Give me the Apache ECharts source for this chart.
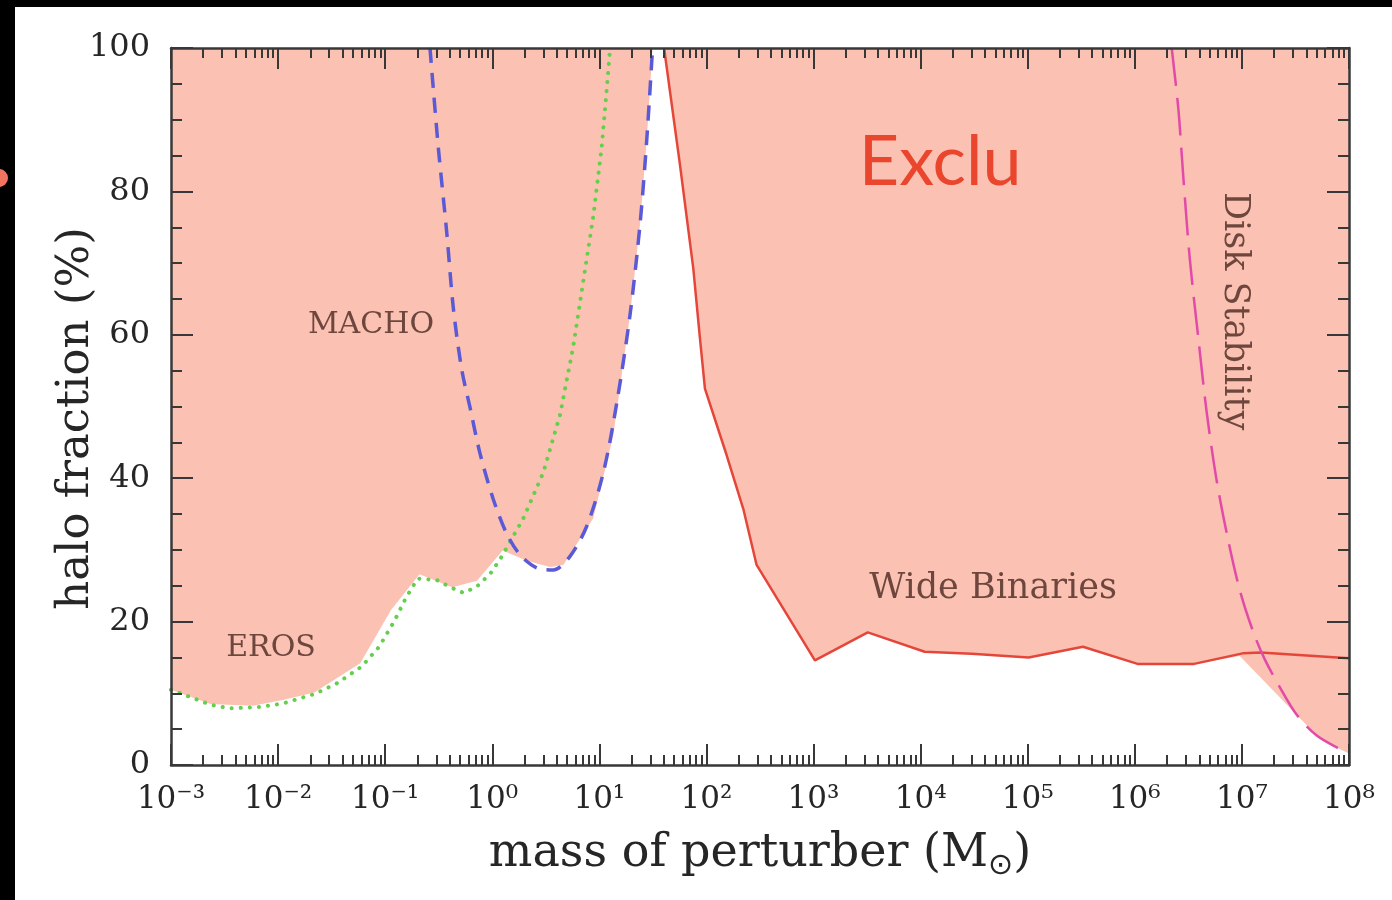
<!DOCTYPE html>
<html>
<head>
<meta charset="utf-8">
<script src="https://cdn.jsdelivr.net/npm/echarts@6/dist/echarts.min.js"></script>
<style>
html,body{margin:0;padding:0;background:#000;}
#chart{width:1392px;height:900px;}
</style>
</head>
<body>
<div id="chart"></div>
<script>
// ---------- axis ticks ----------
const xTickExponents = [-3, -2, -1, 0, 1, 2, 3, 4, 5, 6, 7, 8];
const xTickLabels = ['10⁻³', '10⁻²', '10⁻¹', '10⁰', '10¹', '10²', '10³', '10⁴', '10⁵', '10⁶', '10⁷', '10⁸'];
const xMinorMultipliers = [2, 3, 4, 5, 6, 7, 8, 9];
const yTickValues = [0, 20, 40, 60, 80, 100];

// ---------- EROS (green dotted) ----------
const erosMass = [1.0e-3, 2.34e-3, 3.55e-3, 6.9e-3, 1.12e-2, 2.19e-2, 3.55e-2, 6.0e-2, 8.8e-2, 0.123, 0.156, 0.201, 0.303, 0.421, 0.54, 0.72, 0.96, 1.23, 1.95, 3.0, 4.29, 5.71, 7.08, 8.77, 10.5, 11.7, 12.6];
const erosFrac = [10.5, 8.4, 7.9, 8.1, 8.6, 9.9, 11.4, 13.7, 16.5, 20.2, 23.3, 26.0, 25.8, 24.7, 24.0, 24.9, 26.7, 29.1, 34.4, 40.8, 48.8, 58.4, 67.5, 76.5, 86.1, 94.1, 100];

// ---------- MACHO (blue dashed) ----------
const machoMass = [0.262, 0.313, 0.375, 0.433, 0.518, 0.619, 0.767, 1.02, 1.36, 1.82, 2.6, 3.72, 5.32, 7.62, 10.9, 14.5, 19.3, 24.0, 27.7, 31.4];
const machoFrac = [100, 86.2, 74.4, 63.7, 55.2, 49.9, 43.5, 37.1, 32.3, 29.3, 27.5, 27.2, 29.1, 33.3, 40.8, 50.4, 62.7, 75.5, 87.2, 100];

// ---------- Wide Binaries (red solid) ----------
const wbMass = [40.2, 56.6, 75.3, 87.1, 96.8, 154.5, 221, 294, 1030, 3210, 1.09e4, 3.0e4, 1.02e5, 3.28e5, 1.06e6, 3.58e6, 1.04e7, 1.49e7, 1e8];
const wbFrac = [100, 83.7, 69.3, 59.4, 52.5, 43.2, 35.7, 27.9, 14.6, 18.5, 15.8, 15.5, 15.0, 16.5, 14.1, 14.1, 15.6, 15.7, 14.9];

// ---------- Disk Stability (magenta dashed) ----------
const diskMass = [2.21e6, 2.55e6, 2.84e6, 3.27e6, 3.92e6, 4.69e6, 5.82e6, 7.46e6, 9.59e6, 1.28e7, 1.64e7, 2.27e7, 3.25e7, 5.0e7, 8.24e7, 1e8];
const diskFrac = [100, 91.5, 81.9, 70.4, 59.5, 49.2, 39.6, 31.3, 24.3, 18.5, 14.7, 10.8, 7.0, 4.1, 2.2, 1.6];

// ---------- Excluded region lower boundary (pink fill) ----------
const exclMass = [1e-3, 2.34e-3, 5.83e-3, 1.13e-2, 2.18e-2, 5.85e-2, 0.113, 0.209, 0.422, 0.72, 1.25, 2.1, 3.46, 4.6, 8.77, 13.5, 19.3, 24.0, 27.7, 31.4, 40.2, 56.6, 75.3, 87.1, 96.8, 154.5, 221, 294, 1030, 3210, 1.09e4, 3.0e4, 1.02e5, 3.28e5, 1.06e6, 3.58e6, 9.55e6, 3.24e7, 5.0e7, 8.24e7, 1e8];
const exclFrac = [10.5, 8.5, 8.25, 9.1, 10.1, 14.2, 21.6, 26.6, 24.8, 25.7, 29.9, 28.5, 27.6, 27.9, 34.4, 46.0, 62.7, 75.5, 87.2, 100, 100, 83.7, 69.3, 59.4, 52.5, 43.2, 35.7, 27.9, 14.6, 18.5, 15.8, 15.5, 15.0, 16.5, 14.1, 14.1, 15.2, 7.0, 4.1, 2.2, 1.6];

// ---------- Annotations ----------
const noteTexts = ['MACHO', 'EROS', 'Wide Binaries', 'Disk Stability', 'Exclu'];
const noteMass = [0.0736, 0.00859, 4.74e4, 8.43e6, 1.52e4];
const noteFrac = [61.3, 16.3, 24.6, 63.3, 84.1];

// ---------- build ----------
const zip = (xs, ys) => xs.map((x, i) => [x, ys[i]]);
const majorXValues = xTickExponents.map(e => Math.pow(10, e));
const minorXValues = [];
xTickExponents.slice(0, -1).forEach(e => xMinorMultipliers.forEach(k => minorXValues.push(k * Math.pow(10, e))));

const axisColor = '#383838';
const textColor = '#262626';
const sans = 'DejaVu Sans';
const serif = 'DejaVu Serif';

function xAxisDef(position, major, withLabels) {
  const ax = {
    type: 'log', logBase: 10, min: 1e-3, max: 1e8, position: position, z: 10,
    axisLine: { show: major, onZero: false, lineStyle: { color: axisColor, width: 2.5 } },
    axisTick: { show: true, inside: true, length: major ? 21 : 10, customValues: major ? majorXValues : minorXValues,
      lineStyle: { color: axisColor, width: 2 } },
    axisLabel: { show: false },
    splitLine: { show: false }
  };
  if (withLabels) {
    ax.axisLabel = {
      show: true, customValues: majorXValues, margin: 19,
      fontFamily: serif, fontSize: 31, color: textColor,
      formatter: v => xTickLabels[xTickExponents.indexOf(Math.round(Math.log10(v)))]
    };
    ax.name = 'mass of perturber (M{sub|⊙})';
    ax.nameLocation = 'middle';
    ax.nameGap = 62;
    ax.nameMoveOverlap = false;
    ax.nameTextStyle = {
      fontFamily: serif, fontSize: 46, color: textColor, lineHeight: 54,
      rich: { sub: { fontFamily: sans, fontSize: 30, lineHeight: 22, verticalAlign: 'bottom', color: textColor } }
    };
  }
  return ax;
}

function yAxisDef(position, withLabels) {
  const ax = {
    type: 'value', min: 0, max: 100, interval: 20, position: position, z: 10,
    axisLine: { show: true, onZero: false, lineStyle: { color: axisColor, width: 2.5 } },
    axisTick: { show: true, inside: true, length: 22, lineStyle: { color: axisColor, width: 2 } },
    minorTick: { show: true, splitNumber: 4, length: 11, lineStyle: { color: axisColor, width: 2 } },
    axisLabel: { show: withLabels, margin: 21, fontFamily: serif, fontSize: 32, color: textColor,
      formatter: v => (yTickValues.indexOf(v) >= 0 ? String(v) : '') },
    splitLine: { show: false }
  };
  if (withLabels) {
    ax.name = 'halo fraction (%)';
    ax.nameLocation = 'middle';
    ax.nameGap = 70;
    ax.nameMoveOverlap = false;
    ax.nameTextStyle = { fontFamily: serif, fontSize: 45, color: textColor, lineHeight: 50, padding: [0, 24, 0, 0] };
  }
  return ax;
}

const noteStyles = [
  { fontFamily: serif, fontSize: 30, color: '#4a2820' },
  { fontFamily: serif, fontSize: 30, color: '#4a2820' },
  { fontFamily: serif, fontSize: 35, color: '#4a2820' },
  { fontFamily: serif, fontSize: 35, color: '#4a2820', rotate: -90 },
  { fontFamily: 'Lato', fontSize: 70, color: '#e5270b' }
];

const option = {
  backgroundColor: '#000',
  animation: false,
  graphic: [
    { type: 'rect', shape: { x: 15, y: 7, width: 1377, height: 893 }, style: { fill: '#fff' }, z: -100, silent: true },
    { type: 'circle', shape: { cx: -1, cy: 178, r: 9 }, style: { fill: '#f27460' }, z: -99, silent: true }
  ],
  grid: { left: 171, right: 43, top: 48, bottom: 135, containLabel: false, outerBoundsMode: 'none' },
  xAxis: [
    xAxisDef('bottom', true, true),
    xAxisDef('bottom', false, false),
    xAxisDef('top', true, false),
    xAxisDef('top', false, false)
  ],
  yAxis: [
    yAxisDef('left', true),
    yAxisDef('right', false)
  ],
  series: [
    {
      name: 'Excluded', type: 'line', data: zip(exclMass, exclFrac), symbol: 'none', silent: true, z: 1,
      lineStyle: { width: 0, opacity: 0 },
      areaStyle: { color: '#fbc1b2', opacity: 1, origin: 'end' }
    },
    {
      name: 'Wide Binaries', type: 'line', data: zip(wbMass, wbFrac), symbol: 'none', z: 3,
      lineStyle: { color: '#e4473a', width: 2.5 }
    },
    {
      name: 'EROS', type: 'line', data: zip(erosMass, erosFrac), symbol: 'none', z: 4,
      lineStyle: { color: '#63cf4c', width: 4, type: [0.1, 9], cap: 'round' }
    },
    {
      name: 'MACHO', type: 'line', data: zip(machoMass, machoFrac), symbol: 'none', z: 4, smooth: 0.3,
      lineStyle: { color: '#5a5ad6', width: 3.5, type: [15, 10] }
    },
    {
      name: 'Disk Stability', type: 'line', data: zip(diskMass, diskFrac), symbol: 'none', z: 4, smooth: 0.3,
      lineStyle: { color: '#e24aa8', width: 2.5, type: [38, 12] }
    },
    {
      name: 'Labels', type: 'scatter', symbol: 'circle', symbolSize: 1, z: 6, silent: true,
      itemStyle: { color: 'transparent' },
      data: noteTexts.map((t, i) => ({
        name: t, value: [noteMass[i], noteFrac[i]],
        label: Object.assign({ show: true, position: 'inside', align: 'center', verticalAlign: 'middle', formatter: '{b}' }, noteStyles[i])
      }))
    }
  ]
};

const chart = echarts.init(document.getElementById('chart'), null, { renderer: 'canvas' });
chart.setOption(option);
</script>
</body>
</html>
